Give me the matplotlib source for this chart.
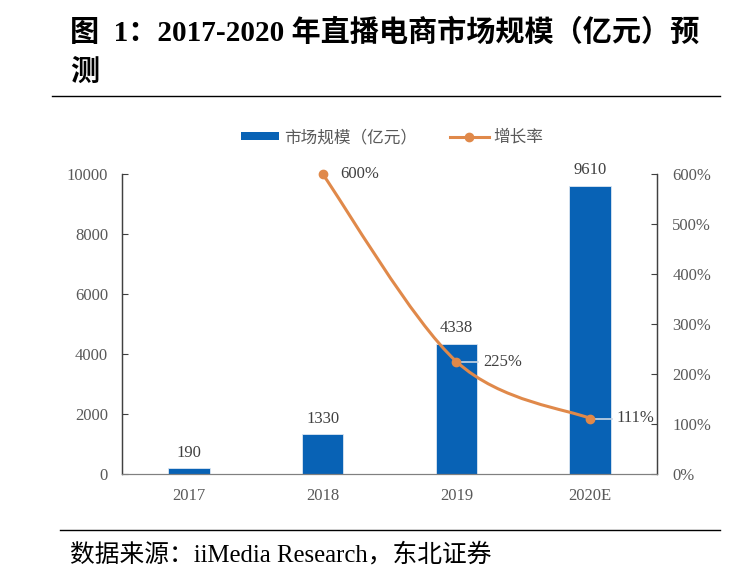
import matplotlib.pyplot as plt
from matplotlib.path import Path
from matplotlib.patches import PathPatch
from matplotlib.lines import Line2D
from matplotlib.patches import Patch

plt.rcParams['font.family'] = ['Liberation Serif', 'Noto Sans CJK SC']

years = ['2017', '2018', '2019', '2020E']
scale = [190, 1330, 4338, 9610]          # 市场规模（亿元）
growth_x = [1, 2, 3]                     # index of years that have a growth rate
growth = [6.00, 2.25, 1.11]              # 增长率
growth_lbl = ['600%', '225%', '111%']
left_ticks = [0, 2000, 4000, 6000, 8000, 10000]
right_ticks = [0, 1, 2, 3, 4, 5, 6]

blue = '#0862B5'
orange = '#E0894A'
grey = '#595959'

fig = plt.figure(figsize=(7.42, 5.88), dpi=100)

# title, two lines
fig.text(70 / 742, 1 - 33 / 588, '图  1：2017-2020 年直播电商市场规模（亿元）预',
         fontsize=21, fontweight='bold', va='center', ha='left', color='black')
fig.text(70 / 742, 1 - 72 / 588, '测', fontsize=21, fontweight='bold',
         va='center', ha='left', color='black')
fig.add_artist(Line2D([52 / 742, 720 / 742], [1 - 96 / 588] * 2, color='black', lw=1.0))
fig.add_artist(Line2D([60 / 742, 720 / 742], [1 - 530 / 588] * 2, color='black', lw=1.0))
fig.text(70 / 742, 1 - 555 / 588, '数据来源：iiMedia Research，东北证券',
         fontsize=17.8, va='center', ha='left', color='black')

ax = fig.add_axes([122 / 742, 1 - 474 / 588, 535 / 742, 300 / 588])
ax2 = ax.twinx()

x = list(range(len(years)))
bars = ax.bar(x, scale, width=0.31, color=blue, edgecolor='#dce6f2', lw=0.6, zorder=2)
for xi, v in zip(x, scale):
    ax.text(xi, v + 250, str(v), ha='center', va='bottom', fontsize=12, color='#404040')

ax.set_xlim(-0.5, 3.5)
ax.set_ylim(0, 10000)
ax.set_xticks(x)
ax.set_xticklabels(years)
ax.set_yticks(left_ticks)
ax.tick_params(axis='x', length=0, pad=10, labelsize=12, labelcolor=grey)
ax.tick_params(axis='y', direction='in', length=4, pad=10, labelsize=12,
               labelcolor=grey, color='#404040')

ax2.set_ylim(0, 6)
ax2.set_yticks(right_ticks)
ax2.set_yticklabels([f'{int(t * 100)}%' for t in right_ticks])
ax2.tick_params(axis='y', direction='in', length=4, pad=11, labelsize=12,
                labelcolor=grey, color='#404040')

for a in (ax, ax2):
    a.spines['top'].set_visible(False)
    a.spines['left'].set_color('#404040')
    a.spines['right'].set_color('#404040')
    a.spines['bottom'].set_color('#808080')
    a.spines['left'].set_linewidth(0.9)
    a.spines['right'].set_linewidth(0.9)

# smoothed growth line (Catmull-Rom style bezier through the points)
pts = list(zip(growth_x, growth))
verts = [pts[0]]
codes = [Path.MOVETO]
n = len(pts)
for i in range(n - 1):
    p_prev = pts[i - 1] if i > 0 else pts[i]
    p0 = pts[i]
    p1 = pts[i + 1]
    p_next = pts[i + 2] if i + 2 < n else pts[i + 1]
    c1 = (p0[0] + (p1[0] - p_prev[0]) / 6, p0[1] + (p1[1] - p_prev[1]) / 6)
    c2 = (p1[0] - (p_next[0] - p0[0]) / 6, p1[1] - (p_next[1] - p0[1]) / 6)
    verts += [c1, c2, p1]
    codes += [Path.CURVE4] * 3
ax2.add_patch(PathPatch(Path(verts, codes), fill=False, edgecolor=orange, lw=2.2,
                        zorder=3, clip_on=False))
ax2.plot(growth_x, growth, 'o', color=orange, ms=6, zorder=4, clip_on=False)

# labels for growth
ax2.text(growth_x[0] + 0.13, growth[0], growth_lbl[0], ha='left', va='center',
         fontsize=12, color='#404040')
for gx, g, lbl in zip(growth_x[1:], growth[1:], growth_lbl[1:]):
    ax2.plot([gx, gx + 0.16], [g, g], color='#c9d6e4', lw=1.2, zorder=3.5)
    ax2.text(gx + 0.2, g, lbl, ha='left', va='center', fontsize=12, color='#404040')

handles = [Patch(facecolor=blue, edgecolor='none'),
           Line2D([0], [0], color=orange, lw=2.2, marker='o', ms=6)]
leg = fig.legend(handles, ['市场规模（亿元）', '增长率'], loc='center',
                 bbox_to_anchor=(392 / 742, 1 - 138 / 588), ncol=2, frameon=False,
                 fontsize=12, handlelength=2.3, handleheight=0.4, columnspacing=2.0,
                 handletextpad=0.3, labelcolor=grey)

fig.savefig('out.png', dpi=100)
